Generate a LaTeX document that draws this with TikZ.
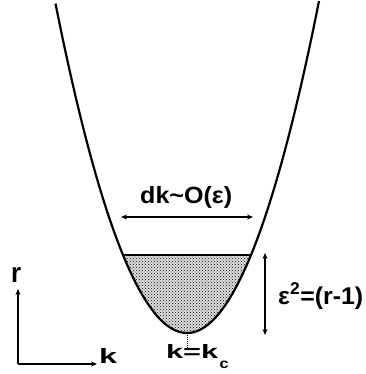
\documentclass[tikz,border=0pt]{standalone}
\usepackage{fontspec}
\usepackage{graphicx}
\setmainfont{Liberation Sans}
\usetikzlibrary{patterns,arrows.meta}
\tikzset{
  curve/.style={line width=2.2pt},
  dimarrow/.style={line width=1.2pt,{Stealth[length=6pt,width=5pt]}-{Stealth[length=6pt,width=5pt]}},
  axis/.style={line width=1.4pt,-{Stealth[length=6pt,width=5pt]}},
  lab/.style={font=\fontsize{20}{24}\selectfont\bfseries, inner sep=0pt, anchor=base west}
}
\begin{document}
\begin{tikzpicture}[x=1pt,y=-1pt]
\useasboundingbox (0,0) rectangle (365,374);
% shaded region
\fill[black!12] plot[domain=-64:64, samples=60] ({187+\x},{333-(\x/10)*(\x/10)/0.525}) -- cycle;
\fill[pattern=crosshatch dots, pattern color=black] plot[domain=-64:64, samples=60] ({187+\x},{333-(\x/10)*(\x/10)/0.525}) -- cycle;
% parabola
\draw[curve] plot[domain=-131.5:132, samples=100] ({187+\x},{333-(\x/10)*(\x/10)/0.525});
% level line
\coordinate (lvL) at (123,255);
\coordinate (lvR) at (251,255);
\draw[curve] (lvL) -- (lvR);
% dk arrow
\coordinate (dkL) at (121,217);
\coordinate (dkR) at (253,217);
\draw[dimarrow] (dkL) -- (dkR);
\node[lab] (dk) at (140,203) {\resizebox{92pt}{17pt}{dk\textasciitilde O(ε)}};
% epsilon arrow
\coordinate (eT) at (265,253);
\coordinate (eB) at (265,335);
\draw[dimarrow] (eT) -- (eB);
\node[lab] (eps) at (278,304) {\resizebox{85pt}{21pt}{ε\textsuperscript{2}=(r-1)}};
% vertex tick
\coordinate (vx) at (187,335);
\coordinate (vxb) at (187,348);
\draw[line width=1pt, densely dotted] (vx) -- (vxb);
\node[lab] (kc) at (166,358) {\resizebox{52pt}{14pt}{k=k}\hspace{1.5pt}\raisebox{-10pt}{\resizebox{9pt}{7.5pt}{c}}};
% axes
\coordinate (o) at (18,364);
\coordinate (ytip) at (18,289);
\coordinate (xtip) at (97,364);
\draw[axis] (o) -- (ytip);
\draw[axis] (o) -- (xtip);
\node[lab] (r) at (11,282) {\resizebox{10pt}{15pt}{r}};
\node[lab] (k) at (99,363) {\resizebox{18pt}{15pt}{k}};
\end{tikzpicture}
\end{document}
